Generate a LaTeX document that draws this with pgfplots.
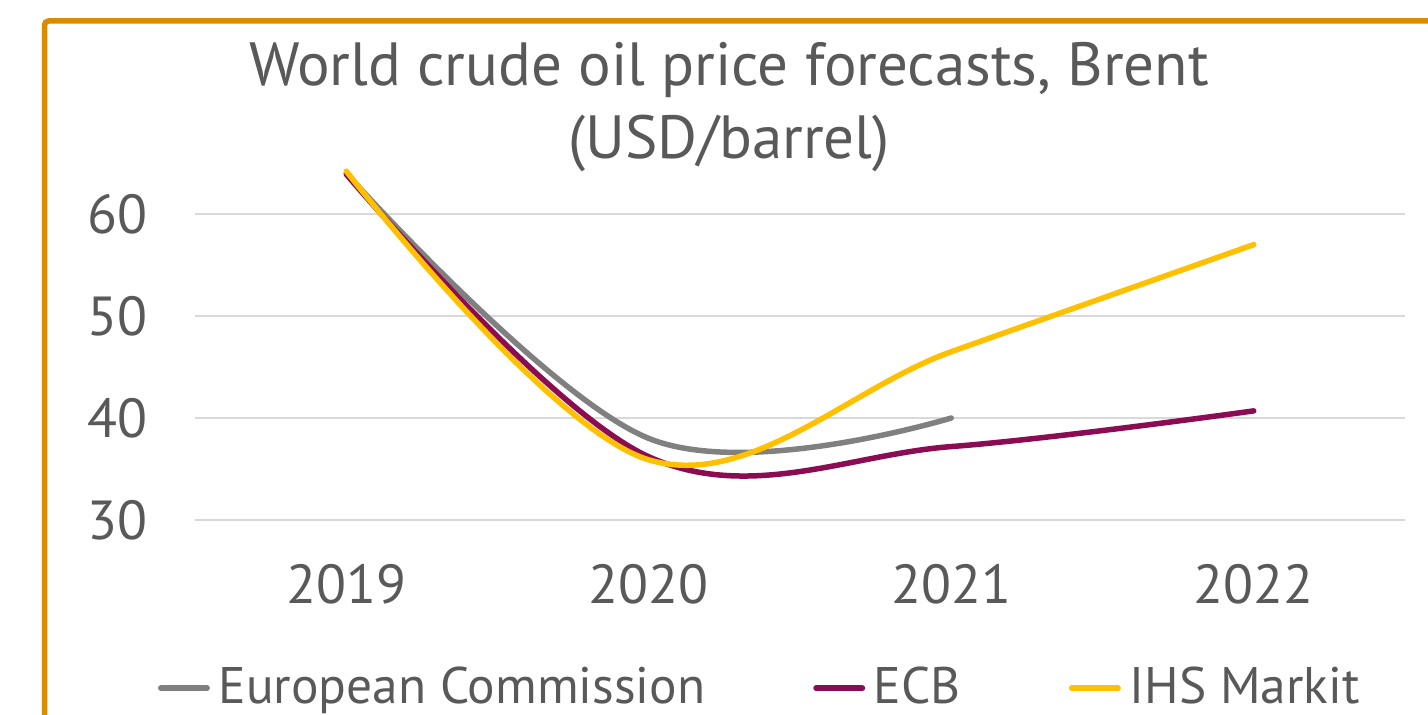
\documentclass[border=0pt]{standalone}
\usepackage{pgfplots}
\pgfplotsset{compat=1.18}
\usepackage{fontspec}
\setmainfont{PT Sans}
\definecolor{txt}{HTML}{595959}
\definecolor{ecgray}{HTML}{808080}
\definecolor{ecb}{HTML}{8B0C52}
\definecolor{ihs}{HTML}{FFC000}
\definecolor{framec}{HTML}{D98C00}
\definecolor{gridc}{HTML}{D9D9D9}

\begin{document}
\begin{tikzpicture}
\useasboundingbox (0,0) rectangle (714pt,357pt);
\fill[white] (0,0) rectangle (714pt,357pt);
\draw[framec, line width=2.75pt, rounded corners=2pt] (22.25pt,-5pt) |- (720pt,346.5pt);
\begin{axis}[
  at={(97.5pt,97pt)}, anchor=south west,
  scale only axis, width=605pt, height=178.5pt,
  xmin=-0.5, xmax=3.5, ymin=30, ymax=65,
  xtick={0,1,2,3}, xticklabels={2019,2020,2021,2022},
  ytick={30,40,50,60},
  axis line style={draw=none},
  major tick length=0pt,
  ymajorgrids, grid style={gridc, line width=0.75pt},
  tick label style={font=\fontsize{27.5}{32}\selectfont, text=txt},
  /pgf/number format/assume math mode=true,
  xticklabel style={anchor=base, inner sep=0pt, yshift=-41.5pt},
  yticklabel style={anchor=east, inner sep=0pt, xshift=-23.5pt},
  clip=false,
  legend columns=3,
  legend cell align=left,
  legend style={draw=none, fill=none, inner sep=0pt, outer sep=0pt,
    font=\fontsize{25.7}{30}\selectfont, text=txt,
    at={(-0.0306,-0.521)}, anchor=south west,
    nodes={inner sep=0pt},
    /tikz/every even column/.append style={column sep=54pt}},
  legend image code/.code={\draw[#1, line cap=round] (1.4pt,-1pt) -- (24.6pt,-1pt); \path (29pt,0pt);},
]
\addplot[ecgray, line width=2.75pt, smooth, tension=0.6, line cap=round] coordinates {(0,64.0) (1,38.0) (2,40.0)};
\addplot[ecb, line width=2.75pt, smooth, tension=0.6, line cap=round] coordinates {(0,63.9) (1,36.2) (2,37.2) (3,40.7)};
\addplot[ihs, line width=2.75pt, smooth, tension=0.6, line cap=round] coordinates {(0,64.2) (1,35.9) (2,46.5) (3,57.0)};
\legend{European Commission, ECB, IHS Markit}
\end{axis}
\node[anchor=base, font=\fontsize{30.5}{36}\selectfont, text=txt, inner sep=0pt] at (364.5pt,314pt) {World crude oil price forecasts, Brent};
\node[anchor=base, font=\fontsize{30.5}{36}\selectfont, text=txt, inner sep=0pt] at (364.5pt,278pt) {(USD/barrel)};
\end{tikzpicture}
\end{document}
